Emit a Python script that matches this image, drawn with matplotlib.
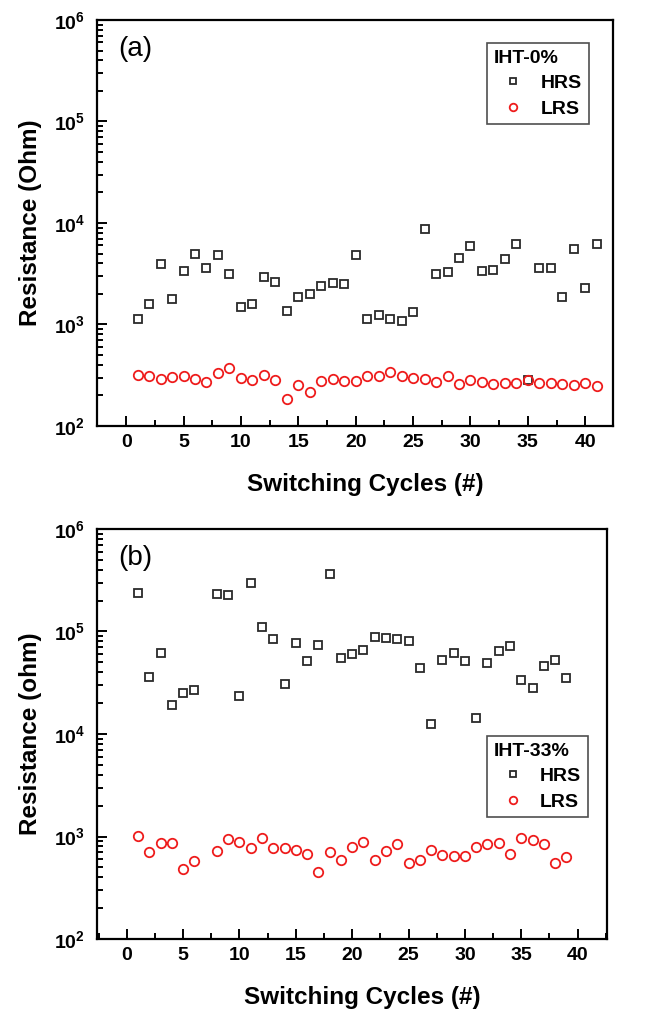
import matplotlib
matplotlib.use('Agg')
from matplotlib import pyplot as plt
from matplotlib.ticker import LogLocator, FixedLocator, MultipleLocator, NullFormatter
import numpy as np

plt.rcParams['font.family'] = ['Liberation Sans', 'DejaVu Sans']
plt.rcParams['mathtext.fontset'] = 'custom'
plt.rcParams['mathtext.rm'] = 'Liberation Sans:bold'
plt.rcParams['mathtext.default'] = 'rm'

# panel (a) IHT-0%
cycles_a = list(range(1, 42))
hrs_a = [1125, 1580, 3920, 1780, 3370, 4990, 3600, 4810, 3145, 1476,
         1592, 2957, 2604, 1358, 1879, 1995, 2413, 2545, 2490, 4875,
         1125, 1241, 1140, 1082, 1318, 8790, 3145, 3316, 4560, 5890,
         3400, 3410, 4390, 6250, 284, 3630, 3580, 1853, 5505, 2305, 6250]
lrs_a = [318, 309, 290, 306, 309, 292, 269, 335, 376, 299,
         284, 318, 284, 185, 253, 216, 279, 292, 279, 279,
         309, 309, 338, 309, 299, 290, 273, 311, 259, 282,
         269, 257, 267, 266, 284, 266, 267, 259, 252, 266, 250]

# panel (b) IHT-33% (no point at cycle 7)
cycles_b = [1, 2, 3, 4, 5, 6] + list(range(8, 40))
hrs_b = [239000, 36200, 61700, 19300, 25300, 26900,
         232000, 225000, 23300, 299000, 110600, 84500, 30700, 76700,
         51600, 73800, 364000, 54700, 60700, 66000, 89000, 87000, 85000,
         80200, 43700, 12400, 53100, 61300, 51900, 14200, 48900, 64500,
         72200, 33400, 28300, 46400, 53100, 35400]
lrs_b = [1018, 701, 870, 859, 479, 577,
         717, 938, 889, 778, 967, 778, 773, 733, 679, 454, 706, 594,
         796, 889, 590, 721, 852, 547, 590, 738, 660, 650, 641, 796,
         845, 870, 679, 967, 918, 845, 547, 627]

fig = plt.figure(figsize=(6.54, 10.23), dpi=100)
ax1 = fig.add_axes([0.149, 0.5836, 0.788, 0.3969])
ax2 = fig.add_axes([0.149, 0.0821, 0.779, 0.4008])


def style(ax, cycles, hrs, lrs, xlim, ylabel, tag, leg_title, leg_anchor):
    ax.plot(cycles, hrs, ls='none', marker='s', ms=6.2, mfc='none',
            mec='#2a2a2a', mew=1.3, label='HRS')
    ax.plot(cycles, lrs, ls='none', marker='o', ms=6.8, mfc='none',
            mec='#ee1c1c', mew=1.3, label='LRS')
    ax.set_yscale('log')
    ax.set_ylim(1e2, 1e6)
    ax.set_xlim(*xlim)
    ax.xaxis.set_major_locator(MultipleLocator(5))
    ax.xaxis.set_minor_locator(MultipleLocator(2.5))
    ax.yaxis.set_major_locator(FixedLocator([1e2, 1e3, 1e4, 1e5, 1e6]))
    ax.yaxis.set_minor_locator(LogLocator(base=10, subs=np.arange(2, 10)))
    ax.yaxis.set_minor_formatter(NullFormatter())
    ax.set_yticklabels([r'$10^{%d}$' % e for e in range(2, 7)])
    ax.tick_params(which='both', direction='in', top=False, right=False, width=1.4)
    ax.tick_params(which='major', length=7, labelsize=14, pad=6)
    ax.tick_params(axis='y', which='major', pad=9)
    ax.tick_params(which='minor', length=4)
    for lab in ax.get_xticklabels():
        lab.set_fontweight('bold')
    for sp in ax.spines.values():
        sp.set_linewidth(1.6)
    ax.set_xlabel('Switching Cycles (#)', fontsize=17.5, fontweight='bold', labelpad=12)
    ax.xaxis.set_label_coords(0.52, -0.115)
    ax.set_ylabel(ylabel, fontsize=17.5, fontweight='bold', labelpad=8)
    ax.text(0.04, 0.96, tag, transform=ax.transAxes, fontsize=20, va='top', ha='left')
    leg = ax.legend(loc='upper right', bbox_to_anchor=leg_anchor, title=leg_title,
                    frameon=True, fancybox=False, edgecolor='#222222',
                    prop={'weight': 'bold', 'size': 14},
                    title_fontproperties={'weight': 'bold', 'size': 14},
                    alignment='left', handletextpad=0.4, borderpad=0.35,
                    borderaxespad=0, labelspacing=0.4, handlelength=2.0,
                    markerscale=0.8)
    leg.get_frame().set_linewidth(1.2)


style(ax1, cycles_a, hrs_a, lrs_a, (-2.5, 42.4), 'Resistance (Ohm)', '(a)',
      'IHT-0%', (0.953, 0.943))
style(ax2, cycles_b, hrs_b, lrs_b, (-2.6, 42.6), 'Resistance (ohm)', '(b)',
      'IHT-33%', (0.963, 0.495))

fig.savefig('out.png', dpi=100)
